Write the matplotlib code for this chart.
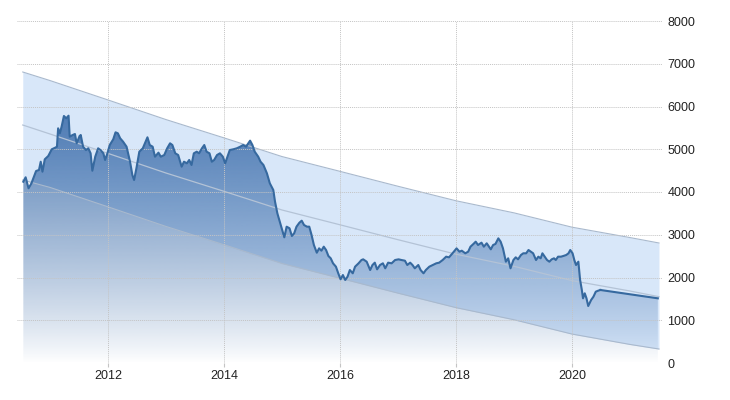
import numpy as np
import matplotlib.pyplot as plt
from matplotlib.patches import Polygon

plt.rcParams['font.family'] = ['Liberation Sans', 'DejaVu Sans']

# price series (decimal year, value)
years = [2010.54, 2010.58, 2010.63, 2010.68, 2010.76, 2010.81, 2010.84, 2010.87, 2010.91, 2010.97,
         2011.03, 2011.09, 2011.12, 2011.14, 2011.17, 2011.20, 2011.24, 2011.28, 2011.32, 2011.34,
         2011.39, 2011.43, 2011.46, 2011.51, 2011.53, 2011.57, 2011.62, 2011.66, 2011.70, 2011.73,
         2011.78, 2011.83, 2011.87, 2011.92, 2011.95, 2011.99, 2012.03, 2012.09, 2012.13, 2012.17,
         2012.21, 2012.26, 2012.32, 2012.38, 2012.42, 2012.45, 2012.49, 2012.54, 2012.60, 2012.66,
         2012.68, 2012.72, 2012.77, 2012.81, 2012.87, 2012.91, 2012.97, 2013.02, 2013.07, 2013.11,
         2013.16, 2013.21, 2013.27, 2013.31, 2013.36, 2013.40, 2013.44, 2013.48, 2013.53, 2013.57,
         2013.62, 2013.66, 2013.70, 2013.75, 2013.79, 2013.83, 2013.88, 2013.93, 2013.98, 2014.02,
         2014.06, 2014.10, 2014.16, 2014.22, 2014.28, 2014.33, 2014.38, 2014.42, 2014.45, 2014.49,
         2014.53, 2014.59, 2014.63, 2014.68, 2014.74, 2014.79, 2014.85, 2014.88, 2014.92, 2014.97,
         2015.01, 2015.04, 2015.08, 2015.13, 2015.17, 2015.21, 2015.25, 2015.30, 2015.34, 2015.38,
         2015.43, 2015.47, 2015.51, 2015.55, 2015.60, 2015.64, 2015.68, 2015.72, 2015.76, 2015.80,
         2015.84, 2015.88, 2015.93, 2015.97, 2016.01, 2016.05, 2016.09, 2016.13, 2016.17, 2016.22,
         2016.26, 2016.32, 2016.37, 2016.40, 2016.46, 2016.52, 2016.56, 2016.60, 2016.64, 2016.69,
         2016.74, 2016.78, 2016.83, 2016.89, 2016.95, 2017.01, 2017.06, 2017.12, 2017.16, 2017.21,
         2017.25, 2017.29, 2017.35, 2017.39, 2017.44, 2017.48, 2017.54, 2017.60, 2017.66, 2017.71,
         2017.77, 2017.83, 2017.88, 2017.94, 2018.01, 2018.06, 2018.10, 2018.16, 2018.21, 2018.25,
         2018.30, 2018.34, 2018.38, 2018.44, 2018.48, 2018.53, 2018.57, 2018.60, 2018.64, 2018.68,
         2018.73, 2018.77, 2018.81, 2018.86, 2018.90, 2018.94, 2018.99, 2019.03, 2019.07, 2019.12,
         2019.16, 2019.21, 2019.25, 2019.29, 2019.33, 2019.38, 2019.42, 2019.46, 2019.49, 2019.53,
         2019.57, 2019.61, 2019.65, 2019.69, 2019.72, 2019.76, 2019.81, 2019.85, 2019.90, 2019.94,
         2019.97, 2020.01, 2020.04, 2020.07, 2020.11, 2020.14, 2020.17, 2020.19, 2020.22, 2020.25,
         2020.28, 2020.33, 2020.37, 2020.41, 2020.45, 2020.49]
prices = [4241, 4344, 4087, 4204, 4491, 4515, 4709, 4475, 4765, 4842,
          4999, 5037, 5060, 5490, 5373, 5528, 5778, 5724, 5785, 5294,
          5333, 5357, 5139, 5310, 5333, 5060, 4982, 5022, 4905, 4498,
          4826, 5022, 4982, 4905, 4749, 4905, 5099, 5232, 5396, 5373,
          5256, 5177, 5060, 4709, 4398, 4281, 4554, 4943, 5022, 5216,
          5279, 5099, 5060, 4826, 4920, 4826, 4865, 5022, 5139, 5099,
          4905, 4865, 4592, 4709, 4671, 4749, 4632, 4905, 4943, 4905,
          5022, 5099, 4943, 4905, 4709, 4749, 4865, 4905, 4826, 4671,
          4826, 4982, 4999, 5022, 5060, 5099, 5060, 5139, 5201, 5099,
          4943, 4826, 4709, 4632, 4437, 4204, 4047, 3773, 3502, 3268,
          3073, 2940, 3189, 3151, 2971, 3034, 3189, 3282, 3329, 3228,
          3189, 3189, 2994, 2760, 2580, 2682, 2627, 2721, 2643, 2503,
          2449, 2332, 2253, 2098, 1958, 2058, 1942, 2019, 2175, 2098,
          2253, 2332, 2409, 2425, 2370, 2175, 2292, 2347, 2191, 2292,
          2332, 2215, 2347, 2332, 2409, 2425, 2409, 2393, 2292, 2347,
          2292, 2215, 2292, 2175, 2098, 2175, 2253, 2292, 2332, 2347,
          2409, 2487, 2472, 2566, 2682, 2604, 2627, 2566, 2604, 2721,
          2784, 2838, 2760, 2815, 2721, 2800, 2721, 2659, 2760, 2784,
          2916, 2838, 2682, 2370, 2449, 2215, 2409, 2472, 2425, 2526,
          2566, 2566, 2643, 2604, 2566, 2409, 2487, 2449, 2566, 2487,
          2409, 2370, 2425, 2449, 2409, 2487, 2487, 2503, 2526, 2566,
          2643, 2566, 2409, 2292, 2370, 1942, 1708, 1513, 1630, 1513,
          1333, 1474, 1551, 1668, 1691, 1708]

# forecast segment
fc_years = [2020.49, 2021.48]
fc_values = [1708, 1513]

# regression channel
trend_years = [2010.53, 2011.0, 2012.0, 2013.0, 2014.0, 2015.0, 2016.0, 2017.0, 2018.0,
               2019.0, 2020.0, 2021.0, 2021.5]
trend_mid = [5567, 5357, 4903, 4444, 4016, 3579, 3233, 2884, 2545, 2262, 1927, 1684, 1551]
trend_upper = [6807, 6607, 6153, 5694, 5266, 4829, 4483, 4134, 3795, 3512, 3177, 2934, 2807]
trend_lower = [4280, 4107, 3653, 3194, 2766, 2329, 1983, 1634, 1295, 1012, 677, 434, 327]

yticks = [0, 1000, 2000, 3000, 4000, 5000, 6000, 7000, 8000]
xticks = [2012, 2014, 2016, 2018, 2020]

fig = plt.figure(figsize=(7.3, 4.0), dpi=100)
ax = fig.add_axes([17 / 730, 37 / 400, 645 / 730, 342 / 400])
ax.set_xlim(2010.431, 2021.552)
ax.set_ylim(0, 8000)

# channel band
ax.fill_between(trend_years, trend_lower, trend_upper, color=(0.70, 0.82, 0.96),
                alpha=0.5, lw=0, zorder=0.5)
ax.plot(trend_years, trend_upper, color='#a9b9cd', lw=0.8, zorder=2)
ax.plot(trend_years, trend_lower, color='#a9b9cd', lw=0.8, zorder=2)
ax.plot(trend_years, trend_mid, color='#b4c3d6', lw=0.9, zorder=2)

# gradient area under the series
all_x = years + fc_years[1:]
all_y = prices + fc_values[1:]
n = 300
grad = np.zeros((n, 1, 4))
grad[:, 0, 0] = 55 / 255
grad[:, 0, 1] = 105 / 255
grad[:, 0, 2] = 168 / 255
vals = np.linspace(0, 6000, n)
grad[:, 0, 3] = np.clip(0.85 * (vals / 5800) ** 0.85, 0, 0.85)
im = ax.imshow(grad, extent=[all_x[0], all_x[-1], 0, 6000], origin='lower',
               aspect='auto', zorder=1)
verts = list(zip(all_x, all_y)) + [(all_x[-1], 0), (all_x[0], 0)]
clip = Polygon(verts, closed=True, facecolor='none', edgecolor='none',
               transform=ax.transData)
ax.add_patch(clip)
im.set_clip_path(clip)

# the series line and forecast
ax.plot(years, prices, color='#36699f', lw=1.5, zorder=3, solid_joinstyle='round')
ax.plot(fc_years, fc_values, color='#36699f', lw=1.5, zorder=3)

ax.set_axisbelow(False)
ax.grid(True, color='#c4c4c4', linestyle=(0, (1, 1)), lw=0.7)
ax.set_xticks(xticks)
ax.set_yticks(yticks)
ax.yaxis.tick_right()
ax.tick_params(axis='y', length=0, pad=4, labelsize=9, labelcolor='#222222')
ax.tick_params(axis='x', length=3, color='#c4c4c4', pad=2, labelsize=9, labelcolor='#222222')
for s in ax.spines.values():
    s.set_visible(False)

fig.savefig('out.png', dpi=100)
